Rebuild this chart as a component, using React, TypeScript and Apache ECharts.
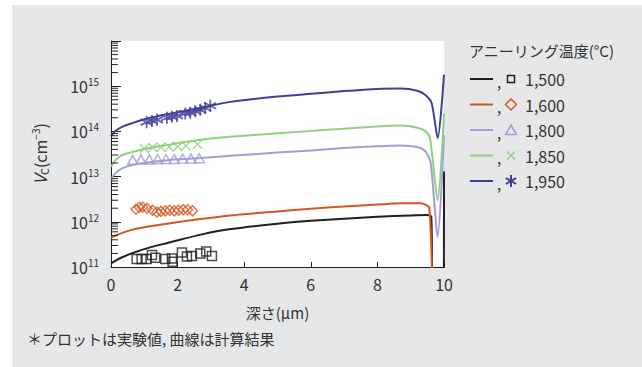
import React, { useEffect, useRef } from 'react';
import * as echarts from 'echarts';

const FONT = "'Noto Sans CJK JP', 'Noto Sans', sans-serif";
const TEXT = '#333333';
const AXIS = '#231f20';

// Annealing temperatures (legend labels) and colours
const temps = ['1,500', '1,600', '1,800', '1,850', '1,950'];
const colors = ['#231f20', '#d2561f', '#a39ed6', '#8fd17f', '#40409a'];

// Calculated curves: depth (µm) and V_C (cm^-3)
const depth1500 = [0, 0.3, 0.7, 1.2, 1.7, 2.7, 3.6, 5, 6, 7, 8, 9, 9.5, 9.62, 9.68, 9.98, 10];
const calc1500 = [1.2e11, 1.6e11, 2.1e11, 2.75e11, 3.4e11, 5.2e11, 6.9e11, 9.1e11, 1.05e12, 1.17e12, 1.29e12, 1.38e12, 1.41e12, 1.29e12, 1e9, 1e9, 1.3e13];

const depth1600 = [0, 0.2, 0.67, 1.0, 1.68, 2.68, 3.58, 5, 6, 7, 8, 8.7, 9.3, 9.56, 9.68];
const calc1600 = [4.4e11, 5.2e11, 6.8e11, 7.6e11, 9.1e11, 1.15e12, 1.38e12, 1.7e12, 1.95e12, 2.19e12, 2.4e12, 2.57e12, 2.57e12, 2.0e12, 1e9];

const depth1800 = [0, 0.1, 0.3, 0.66, 1.0, 1.68, 2.68, 3.58, 5, 6, 7, 8, 8.7, 9.2, 9.45, 9.6, 9.81, 10];
const calc1800 = [8.5e12, 1.12e13, 1.48e13, 1.82e13, 2.0e13, 2.3e13, 2.57e13, 2.88e13, 3.4e13, 3.8e13, 4.27e13, 4.7e13, 4.9e13, 4.5e13, 3.55e13, 2.0e13, 4.7e11, 8.3e13];

const depth1850 = [0, 0.1, 0.3, 0.66, 1.0, 1.68, 2.68, 3.58, 5, 6, 7, 8, 8.7, 9.2, 9.45, 9.58, 9.81, 10];
const calc1850 = [1.66e13, 2.14e13, 2.9e13, 3.55e13, 4.1e13, 5.0e13, 6.5e13, 7.6e13, 9.1e13, 1.02e14, 1.15e14, 1.29e14, 1.35e14, 1.2e14, 1.0e14, 7.1e13, 3.0e12, 2.5e14];

const depth1950 = [0, 0.15, 0.4, 0.7, 1.0, 1.68, 2.68, 3.58, 5, 6, 7, 8, 8.7, 9.2, 9.45, 9.63, 9.81, 10];
const calc1950 = [7.9e13, 1.05e14, 1.32e14, 1.58e14, 1.86e14, 2.4e14, 3.3e14, 4.5e14, 5.9e14, 6.8e14, 7.8e14, 8.7e14, 8.9e14, 7.9e14, 6.3e14, 4.2e14, 7.1e13, 1.8e15];

// Experimental points
const expDepth1500 = [0.77, 0.92, 1.07, 1.23, 1.33, 1.63, 1.83, 1.85, 2.13, 2.28, 2.43, 2.68, 2.86, 3.03];
const exp1500 = [1.5e11, 1.5e11, 1.5e11, 1.85e11, 1.6e11, 1.5e11, 1.55e11, 1.3e11, 2.1e11, 1.7e11, 1.75e11, 2.0e11, 2.2e11, 1.75e11];

const expDepth1600 = [0.75, 0.85, 0.95, 1.08, 1.25, 1.38, 1.5, 1.63, 1.76, 1.9, 2.03, 2.17, 2.3, 2.45];
const exp1600 = [1.9e12, 2.1e12, 2.1e12, 2.0e12, 1.8e12, 1.65e12, 1.7e12, 1.75e12, 1.8e12, 1.75e12, 1.8e12, 1.85e12, 1.85e12, 1.75e12];

const expDepth1800 = [0.65, 0.9, 1.15, 1.4, 1.65, 1.9, 2.15, 2.4, 2.65];
const exp1800 = [2.35e13, 2.4e13, 2.4e13, 2.45e13, 2.45e13, 2.45e13, 2.5e13, 2.5e13, 2.55e13];

const expDepth1850 = [1.0, 1.25, 1.5, 1.75, 2.0, 2.25, 2.6];
const exp1850 = [4.2e13, 4.4e13, 4.5e13, 4.5e13, 4.6e13, 4.8e13, 5.2e13];

const expDepth1950 = [1.07, 1.23, 1.38, 1.68, 1.83, 1.98, 2.23, 2.38, 2.53, 2.68, 2.83, 2.98];
const exp1950 = [1.6e14, 1.7e14, 1.8e14, 2.0e14, 2.1e14, 2.2e14, 2.5e14, 2.6e14, 2.8e14, 3.0e14, 3.3e14, 3.7e14];

// Axis ticks
const xMin = 0;
const xMax = 10;
const xInterval = 2;
const yMin = 1e11;
const yMax = 1e16;
const yDecades = [1e11, 1e12, 1e13, 1e14, 1e15];
const minorMultipliers = [2, 3, 4, 5, 6, 7, 8, 9];

const curveDepths = [depth1500, depth1600, depth1800, depth1850, depth1950];
const curveValues = [calc1500, calc1600, calc1800, calc1850, calc1950];
const expDepths = [expDepth1500, expDepth1600, expDepth1800, expDepth1850, expDepth1950];
const expValues = [exp1500, exp1600, exp1800, exp1850, exp1950];

const symbols = [
  'rect',
  'diamond',
  'triangle',
  'path://M0,0L10,10M10,0L0,10',
  'path://M5,0L5,10M0.7,2.5L9.3,7.5M0.7,7.5L9.3,2.5',
];
const symbolSizes: any[] = [9, [10, 10], [10, 9], 9, 12];

function zip(xs: number[], ys: number[]) {
  return xs.map((x, i) => [x, ys[i]]);
}

function legendMarker(i: number, cx: number, cy: number, color: string): any {
  const stroke = { stroke: color, lineWidth: 1.5, fill: 'none' };
  switch (i) {
    case 0:
      return { type: 'rect', shape: { x: cx - 3.5, y: cy - 3.5, width: 7, height: 7 }, style: stroke };
    case 1:
      return { type: 'polygon', shape: { points: [[cx, cy - 5.5], [cx + 5.5, cy], [cx, cy + 5.5], [cx - 5.5, cy]] }, style: stroke };
    case 2:
      return { type: 'polygon', shape: { points: [[cx, cy - 5], [cx + 5.5, cy + 4.5], [cx - 5.5, cy + 4.5]] }, style: stroke };
    case 3:
      return {
        type: 'group',
        children: [
          { type: 'line', shape: { x1: cx - 4, y1: cy - 4, x2: cx + 4, y2: cy + 4 }, style: stroke },
          { type: 'line', shape: { x1: cx + 4, y1: cy - 4, x2: cx - 4, y2: cy + 4 }, style: stroke },
        ],
      };
    default:
      return {
        type: 'group',
        children: [
          { type: 'line', shape: { x1: cx, y1: cy - 6, x2: cx, y2: cy + 6 }, style: { ...stroke, lineWidth: 2 } },
          { type: 'line', shape: { x1: cx - 5.2, y1: cy - 3, x2: cx + 5.2, y2: cy + 3 }, style: { ...stroke, lineWidth: 2 } },
          { type: 'line', shape: { x1: cx - 5.2, y1: cy + 3, x2: cx + 5.2, y2: cy - 3 }, style: { ...stroke, lineWidth: 2 } },
        ],
      };
  }
}

export default function App() {
  const ref = useRef<HTMLDivElement>(null);

  useEffect(() => {
    document.body.style.margin = '0';
    if (!ref.current) return;
    const chart = echarts.init(ref.current, undefined, { renderer: 'svg' });

    const minorTicks: number[][] = [];
    yDecades.forEach((d) => minorMultipliers.forEach((m) => minorTicks.push([0, d * m])));

    const series: any[] = [];
    for (let i = 0; i < temps.length; i++) {
      series.push({
        type: 'line',
        name: temps[i] + ' calc',
        data: zip(curveDepths[i], curveValues[i]),
        showSymbol: false,
        symbol: 'none',
        smooth: 0.25,
        lineStyle: { color: colors[i], width: 2 },
        z: 3,
      });
      series.push({
        type: 'scatter',
        name: temps[i] + ' exp',
        data: zip(expDepths[i], expValues[i]),
        symbol: symbols[i],
        symbolSize: symbolSizes[i],
        itemStyle: { color: 'rgba(0,0,0,0)', borderColor: colors[i], borderWidth: i === 4 ? 1.8 : 1.5 },
        z: 4,
      });
    }
    series.push({
      type: 'custom',
      name: 'minor ticks',
      data: minorTicks,
      silent: true,
      renderItem: (params: any, api: any) => {
        const p = api.coord([api.value(0), api.value(1)]);
        return {
          type: 'line',
          shape: { x1: p[0], y1: p[1], x2: p[0] + 7, y2: p[1] },
          style: { stroke: AXIS, lineWidth: 1 },
        };
      },
      z: 5,
    });

    const graphic: any[] = [];
    graphic.push({
      type: 'text',
      left: 469,
      top: 43,
      style: { text: 'アニーリング温度(°C)', font: `15px ${FONT}`, fill: TEXT },
    });
    for (let i = 0; i < temps.length; i++) {
      const y = 79 + i * 25.5;
      graphic.push({ type: 'line', shape: { x1: 470, y1: y, x2: 493, y2: y }, style: { stroke: colors[i], lineWidth: 2 } });
      graphic.push({
        type: 'text',
        x: 497,
        y: y + 2,
        style: { text: ',', font: `15px ${FONT}`, fill: TEXT, verticalAlign: 'middle' },
      });
      graphic.push(legendMarker(i, 511, y, colors[i]));
      graphic.push({
        type: 'text',
        x: 525,
        y: y,
        style: { text: temps[i], font: `16px ${FONT}`, fill: TEXT, verticalAlign: 'middle' },
      });
    }
    graphic.push({
      type: 'text',
      left: 27,
      top: 331,
      style: { text: '＊プロットは実験値, 曲線は計算結果', font: `15px ${FONT}`, fill: TEXT },
    });

    chart.setOption({
      animation: false,
      textStyle: { fontFamily: FONT },
      grid: {
        left: 111,
        right: 198,
        top: 41,
        bottom: 100,
        show: true,
        backgroundColor: '#ffffff',
        borderWidth: 0,
      },
      xAxis: {
        type: 'value',
        min: xMin,
        max: xMax,
        interval: xInterval,
        name: '深さ(μm)',
        nameLocation: 'middle',
        nameGap: 38,
        nameTextStyle: { fontSize: 15, color: TEXT, fontFamily: FONT },
        axisLine: { show: true, lineStyle: { color: AXIS, width: 1 } },
        axisTick: { show: true, inside: true, length: 5, lineStyle: { color: AXIS } },
        axisLabel: { fontSize: 16, color: TEXT, margin: 9, fontFamily: FONT },
        splitLine: { show: false },
      },
      yAxis: {
        type: 'log',
        logBase: 10,
        min: yMin,
        max: yMax,
        name: '{i|V}{sub|C}{n|(cm}{sup|−3}{n|)}',
        nameLocation: 'middle',
        nameRotate: 90,
        nameGap: 62,
        nameTextStyle: {
          color: TEXT,
          fontFamily: FONT,
          rich: {
            i: { fontSize: 17, fontStyle: 'italic', color: TEXT, fontFamily: FONT },
            sub: { fontSize: 11, color: TEXT, fontFamily: FONT, padding: [8, 0, 0, 0] },
            n: { fontSize: 16, color: TEXT, fontFamily: FONT },
            sup: { fontSize: 10, color: TEXT, fontFamily: FONT, padding: [0, 0, 9, 0] },
          },
        },
        axisLine: { show: true, lineStyle: { color: AXIS, width: 1 } },
        axisTick: { show: true, inside: true, length: 10, lineStyle: { color: AXIS } },
        axisLabel: {
          margin: 12,
          formatter: (v: number) => {
            const e = Math.round(Math.log10(v));
            if (e > 15) return '';
            return `{b|10}{s|${e}}`;
          },
          rich: {
            b: { fontSize: 16, color: TEXT, fontFamily: FONT },
            s: { fontSize: 10, color: TEXT, fontFamily: FONT, padding: [0, 0, 9, 0] },
          },
        },
        splitLine: { show: false },
      },
      series,
      graphic,
    });

    return () => chart.dispose();
  }, []);

  return (
    <div style={{ position: 'relative', width: 642, height: 367, background: '#ffffff', overflow: 'hidden' }}>
      <div style={{ position: 'absolute', left: 12, top: 5, width: 630, height: 362, background: '#e6e7e9' }} />
      <div ref={ref} style={{ position: 'absolute', left: 0, top: 0, width: 642, height: 367 }} />
    </div>
  );
}
